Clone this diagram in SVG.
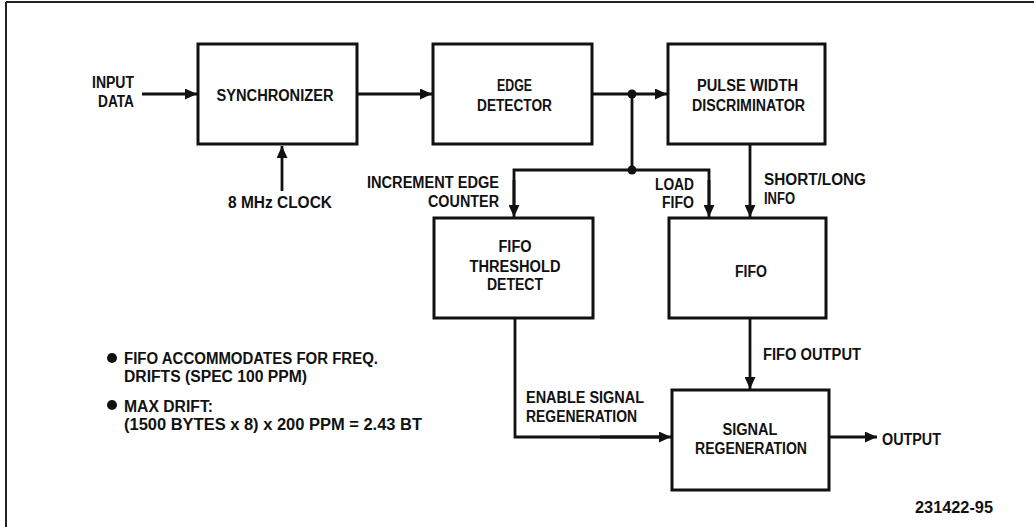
<svg xmlns="http://www.w3.org/2000/svg" width="1034" height="527" viewBox="0 0 1034 527">
<style>
.box{fill:#fff;stroke:#111;stroke-width:3}
.ln{fill:none;stroke:#111;stroke-width:2.8}
text{font-family:"Liberation Sans",Arial,sans-serif;font-weight:bold;font-size:16px;fill:#111}
.c{text-anchor:middle}
.r{text-anchor:end}
</style>
<defs>
<marker id="ah" viewBox="0 0 12 11" refX="12" refY="5.5" markerWidth="12" markerHeight="11" markerUnits="userSpaceOnUse" orient="auto">
<path d="M0,0 L12,5.5 L0,11 Z" fill="#111"/>
</marker>
</defs>
<rect width="1034" height="527" fill="#fff"/>
<path d="M6,2 H1034 M6,2 V527" stroke="#222" stroke-width="2" fill="none"/>
<g id="connectors">
<line class="ln" x1="142" y1="94" x2="197" y2="94" marker-end="url(#ah)"/>
<line class="ln" x1="358" y1="94" x2="432" y2="94" marker-end="url(#ah)"/>
<line class="ln" x1="282" y1="191" x2="282" y2="146" marker-end="url(#ah)"/>
<line class="ln" x1="592" y1="94" x2="667" y2="94" marker-end="url(#ah)"/>
<path class="ln" d="M632,94 V170"/>
<path class="ln" d="M514,205 V170 H709 V205"/>
<line class="ln" x1="514" y1="180" x2="514" y2="217" marker-end="url(#ah)"/>
<line class="ln" x1="709" y1="180" x2="709" y2="217" marker-end="url(#ah)"/>
<line class="ln" x1="750" y1="145" x2="750" y2="217" marker-end="url(#ah)"/>
<line class="ln" x1="750" y1="319" x2="750" y2="389" marker-end="url(#ah)"/>
<path class="ln" d="M515,319 V437 H660"/>
<line class="ln" x1="600" y1="437" x2="671" y2="437" marker-end="url(#ah)"/>
<line class="ln" x1="830" y1="437" x2="877" y2="437" marker-end="url(#ah)"/>
<circle cx="632" cy="94" r="4.5" fill="#111"/>
<circle cx="632" cy="170" r="4.5" fill="#111"/>
</g>
<g id="sync"><rect class="box" x="198" y="44" width="159" height="100"/><text class="c" x="275" y="101" textLength="117" lengthAdjust="spacingAndGlyphs">SYNCHRONIZER</text></g>
<g id="edge"><rect class="box" x="433" y="44" width="159" height="100"/><text class="c" x="514.5" y="91" textLength="35" lengthAdjust="spacingAndGlyphs">EDGE</text><text class="c" x="514.5" y="111" textLength="75" lengthAdjust="spacingAndGlyphs">DETECTOR</text></g>
<g id="pwd"><rect class="box" x="668" y="44" width="157" height="100"/><text class="c" x="747.5" y="91" textLength="101" lengthAdjust="spacingAndGlyphs">PULSE WIDTH</text><text class="c" x="748.5" y="111" textLength="113" lengthAdjust="spacingAndGlyphs">DISCRIMINATOR</text></g>
<g id="fifothr"><rect class="box" x="434" y="218" width="159" height="100"/><text class="c" x="515" y="252" textLength="33" lengthAdjust="spacingAndGlyphs">FIFO</text><text class="c" x="515" y="272" textLength="91" lengthAdjust="spacingAndGlyphs">THRESHOLD</text><text class="c" x="515" y="290" textLength="56" lengthAdjust="spacingAndGlyphs">DETECT</text></g>
<g id="fifo"><rect class="box" x="669" y="218" width="157" height="100"/><text class="c" x="751" y="277" textLength="32" lengthAdjust="spacingAndGlyphs">FIFO</text></g>
<g id="sigregen"><rect class="box" x="672" y="390" width="157" height="100"/><text class="c" x="750" y="435" textLength="55" lengthAdjust="spacingAndGlyphs">SIGNAL</text><text class="c" x="751" y="454" textLength="112" lengthAdjust="spacingAndGlyphs">REGENERATION</text></g>
<g id="labels">
<text class="r" x="134" y="88" textLength="42" lengthAdjust="spacingAndGlyphs">INPUT</text>
<text class="r" x="134" y="107" textLength="36" lengthAdjust="spacingAndGlyphs">DATA</text>
<text class="c" x="280" y="208" textLength="104" lengthAdjust="spacingAndGlyphs">8 MHz CLOCK</text>
<text class="r" x="499" y="188" textLength="132" lengthAdjust="spacingAndGlyphs">INCREMENT EDGE</text>
<text class="r" x="499" y="207" textLength="71" lengthAdjust="spacingAndGlyphs">COUNTER</text>
<text class="r" x="694" y="190" textLength="39" lengthAdjust="spacingAndGlyphs">LOAD</text>
<text class="r" x="694" y="208" textLength="32" lengthAdjust="spacingAndGlyphs">FIFO</text>
<text x="764" y="185" textLength="102" lengthAdjust="spacingAndGlyphs">SHORT/LONG</text>
<text x="764" y="204" textLength="31" lengthAdjust="spacingAndGlyphs">INFO</text>
<text x="763" y="360" textLength="98" lengthAdjust="spacingAndGlyphs">FIFO OUTPUT</text>
<text x="526" y="403" textLength="118" lengthAdjust="spacingAndGlyphs">ENABLE SIGNAL</text>
<text x="526" y="422" textLength="111" lengthAdjust="spacingAndGlyphs">REGENERATION</text>
<text x="882" y="445" textLength="59" lengthAdjust="spacingAndGlyphs">OUTPUT</text>
<text x="915" y="513" font-size="15" textLength="78" lengthAdjust="spacingAndGlyphs">231422-95</text>
<circle cx="112" cy="358" r="5" fill="#111"/>
<text x="124" y="364" textLength="254" lengthAdjust="spacingAndGlyphs">FIFO ACCOMMODATES FOR FREQ.</text>
<text x="124" y="382" textLength="183" lengthAdjust="spacingAndGlyphs">DRIFTS (SPEC 100 PPM)</text>
<circle cx="112" cy="405" r="5" fill="#111"/>
<text x="124" y="412" textLength="89" lengthAdjust="spacingAndGlyphs">MAX DRIFT:</text>
<text x="124" y="430" textLength="298" lengthAdjust="spacingAndGlyphs">(1500 BYTES x 8) x 200 PPM = 2.43 BT</text>
</g>
</svg>
